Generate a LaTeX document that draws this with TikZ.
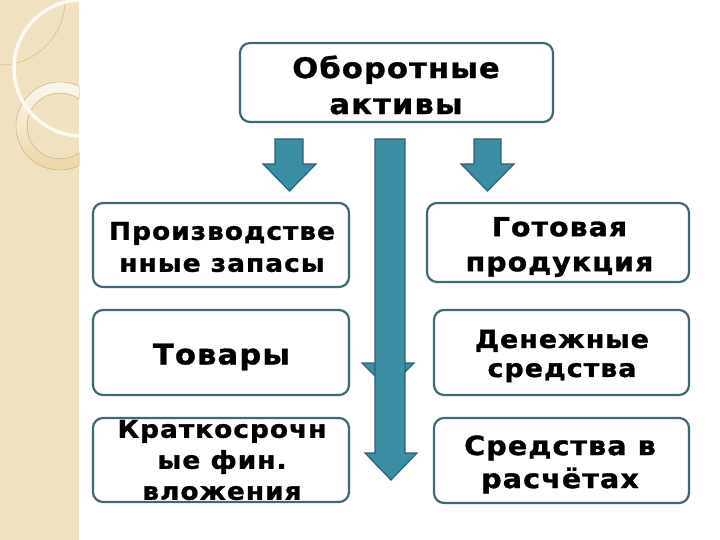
\documentclass[tikz,border=0pt]{standalone}
\usepackage{fontspec}
\setmainfont[LetterSpace=4,FakeStretch=1.08,BoldFeatures={FakeBold=1.2}]{DejaVu Sans}
\definecolor{boxline}{RGB}{62,104,114}
\definecolor{arrfill}{RGB}{58,141,163}
\definecolor{arrline}{RGB}{44,100,116}
\definecolor{strip}{RGB}{240,226,193}
\definecolor{stripdark}{RGB}{216,194,148}
\definecolor{ringlow}{RGB}{236,214,165}
\begin{document}
\begin{tikzpicture}[x=1pt,y=-1pt,
  box/.style={draw=boxline, line width=2.2pt, rounded corners=10pt, fill=white, inner sep=0pt},
  txt/.style={font=\bfseries, align=center, inner sep=0pt, text=black},
  blockarrow/.style={fill=arrfill, draw=arrline, line width=1.2pt, line join=miter}]
\useasboundingbox (0,0) rectangle (720,540);
\fill[white] (0,0) rectangle (720,540);
% left decorative strip
\begin{scope}
  \clip (0,0) rectangle (79,540);
  \fill[strip] (0,0) rectangle (79,540);
  \draw[stripdark, line width=0.7pt] (0,0) circle[radius=65];
  \fill[even odd rule, top color=white!75!strip, bottom color=ringlow] (60,126) circle[radius=44] (60,126) circle[radius=33];
  \draw[stripdark, line width=0.6pt] (60,126) circle[radius=44];
  \draw[stripdark, line width=0.6pt] (60,126) circle[radius=33];
  \draw[white!80!strip, line width=3.5pt] (82,68) circle[radius=68];
\end{scope}
% boxes
\node[box, minimum width=313pt, minimum height=79pt] (top) at (396.5,82.5) {};
\node[box, minimum width=256pt, minimum height=84pt] (l1) at (221,245) {};
\node[box, minimum width=256pt, minimum height=85pt] (l2) at (221,352.5) {};
\node[box, minimum width=256pt, minimum height=84pt] (l3) at (221,460) {};
\node[box, minimum width=262pt, minimum height=79pt] (r1) at (558,242.5) {};
\node[box, minimum width=255pt, minimum height=85pt] (r2) at (561.5,352.5) {};
\node[box, minimum width=255pt, minimum height=85pt] (r3) at (561.5,460.5) {};
% texts
\node[txt, font=\bfseries\fontsize{28.3}{36}\selectfont] (ttop) at (396,85) {Оборотные\\активы};
\node[txt, font=\bfseries\fontsize{24.5}{32}\selectfont] (tl1) at (222,247) {Производстве\\нные запасы};
\node[txt, font=\bfseries\fontsize{28.3}{36}\selectfont] (tl2) at (221.5,357) {Товары};
\node[txt, font=\bfseries\fontsize{24.5}{31}\selectfont] (tl3) at (222,460) {Краткосрочн\\ые фин.\\вложения};
\node[txt, font=\bfseries\fontsize{26.3}{35}\selectfont] (tr1) at (559.5,247) {Готовая\\продукция};
\node[txt, font=\bfseries\fontsize{24.9}{29}\selectfont] (tr2) at (562,356) {Денежные\\средства};
\node[txt, font=\bfseries\fontsize{26.5}{33}\selectfont] (tr3) at (560,464.5) {Средства в\\расчётах};
% block arrows
\draw[blockarrow] (275,139) -- (303,139) -- (303,164) -- (316,164) -- (289.5,191) -- (263,164) -- (275,164) -- cycle;
\draw[blockarrow] (474,139) -- (501,139) -- (501,164) -- (514,164) -- (487.5,191) -- (461,164) -- (474,164) -- cycle;
\draw[blockarrow] (377,330) -- (403,330) -- (403,363) -- (414,363) -- (388,389) -- (362,363) -- (377,363) -- cycle;
\draw[blockarrow] (375,139) -- (405,139) -- (405,453) -- (417,453) -- (391,480) -- (365,453) -- (375,453) -- cycle;
\end{tikzpicture}
\end{document}
